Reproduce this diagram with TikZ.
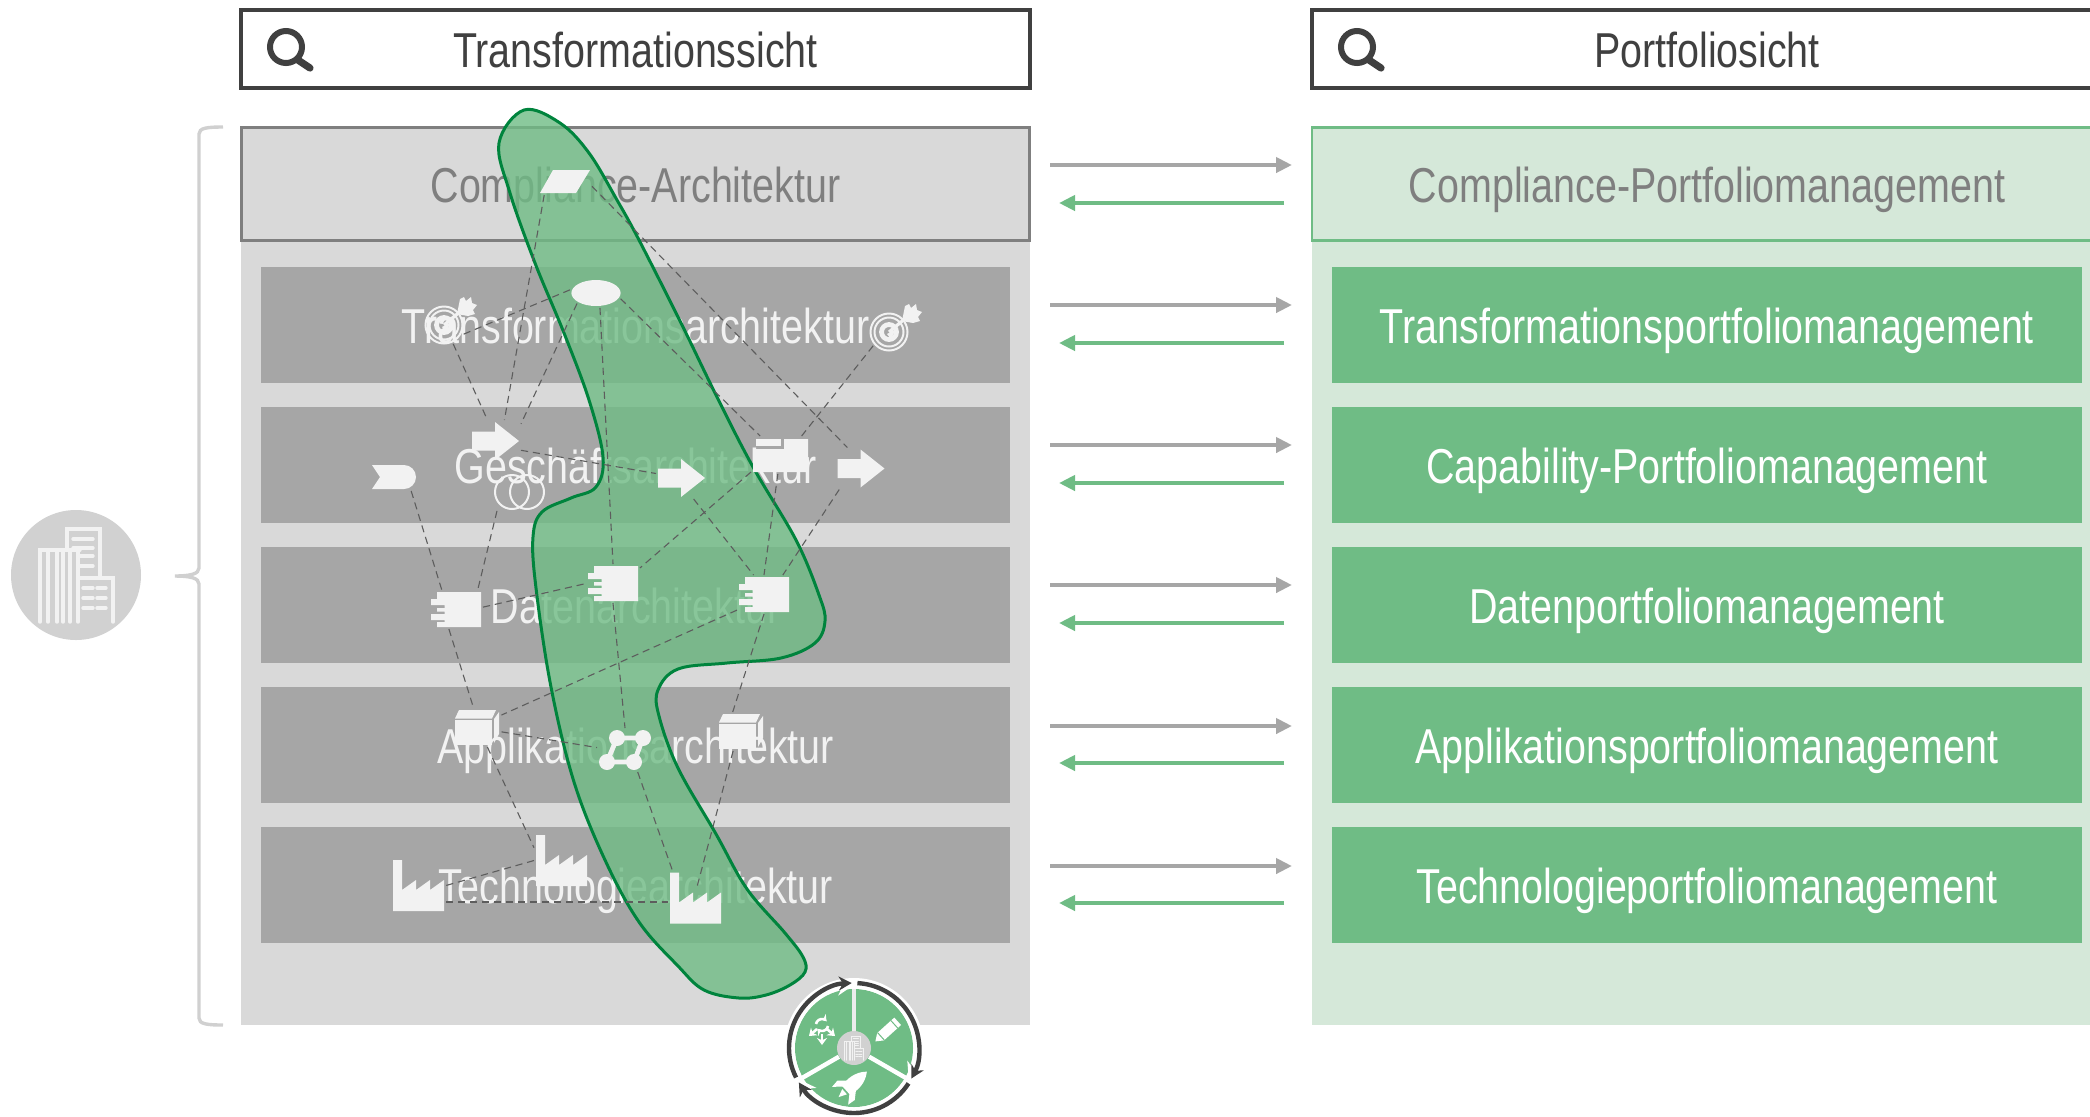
\documentclass[tikz,border=0pt]{standalone}
\usepackage{fontspec}
\setmainfont{Liberation Sans}[FakeStretch=0.805]
\usetikzlibrary{
    arrows.meta,
    shapes.geometric,
    calc
}
\definecolor{panelgray}{HTML}{D9D9D9}
\definecolor{rowgray}{HTML}{A6A6A6}
\definecolor{textgray}{HTML}{7F7F7F}
\definecolor{darkline}{HTML}{404040}
\definecolor{rowgreen}{HTML}{6FBC85}
\definecolor{panelgreen}{HTML}{D5E8D9}
\definecolor{blobline}{HTML}{00843D}
\definecolor{iconwhite}{HTML}{F2F2F2}
\tikzset{
    labelfont/.style={font=\fontsize{24.5}{27}\selectfont, text height=19pt, text depth=1pt},
    headbox/.style={draw=darkline, line width=2pt, fill=white, minimum height=39pt, inner sep=0pt, font=\fontsize{24.5}{27}\selectfont, text height=19pt, text depth=0pt, text=darkline},
    rowleft/.style={fill=rowgray, minimum width=374.5pt, minimum height=58pt, inner sep=0pt, labelfont, text=iconwhite},
    rowright/.style={fill=rowgreen, minimum width=375pt, minimum height=58pt, inner sep=0pt, labelfont, text=white},
    topbox/.style={line width=1.4pt, minimum height=56.5pt, inner sep=0pt, labelfont, text=textgray},
    flowgray/.style={draw=rowgray, line width=2pt, -{Triangle[length=8pt,width=7.5pt]}},
    flowgreen/.style={draw=rowgreen, line width=2pt, -{Triangle[length=8pt,width=7.5pt]}},
    dep/.style={draw=darkline!85, line width=.55pt, dash pattern=on 3.6pt off 2.4pt},
    iconnode/.style 2 args={minimum width=#1*.5pt, minimum height=#2*.5pt, inner sep=0pt, outer sep=1pt},
    iconfill/.style={fill=iconwhite, draw=none},
    ringarc/.style={draw=darkline, line width=2.2pt, -{Stealth[length=6.5pt,width=7pt]}},
    haloarc/.style={draw=white, line width=1.2pt, -{Stealth[length=6pt,width=7pt]}},
    spoke/.style={draw=white, line width=2.2pt}
}
\newcommand{\factoryicon}[3]{
    \node[iconnode={51}{51}] (#1) at (#2,#3) {};
    \fill[iconfill, shift={(#2-25.5,#3-25.5)}] (0,0) -- (9,0) -- (9,30) -- (23,20) -- (23,30) -- (37,20) -- (37,30) -- (51,20) -- (51,51) -- (0,51) -- cycle;
}
\newcommand{\compicon}[3]{
    \node[iconnode={50}{35}] (#1) at (#2,#3) {};
    \fill[iconfill, shift={(#2-19,#3-17.5)}] (44,35) -- (0,35) -- (0,30) -- (7.5,30) -- (7.5,28) -- (-6,28) -- (-6,22) -- (7.5,22) -- (7.5,19.5) -- (0,19.5) -- (0,16) -- (7.5,16) -- (7.5,13) -- (-6,13) -- (-6,7) -- (0,7) -- (0,0) -- (44,0) -- cycle;
}
\newcommand{\cubeicon}[3]{
    \node[iconnode={45}{35}] (#1) at (#2,#3) {};
    \begin{scope}[shift={(#2-22,#3-17.5)}]
        \fill[iconfill] (0,10) rectangle (37,35);
        \fill[iconfill] (0,8.5) -- (4,0) -- (41,0) -- (37,8.5) -- cycle;
        \fill[iconfill] (39,9) -- (44,2) -- (44,24) -- (39,33) -- cycle;
    \end{scope}
}
\newcommand{\arrowicon}[3]{
    \node[iconnode={47}{38}] (#1) at (#2,#3) {};
    \fill[iconfill, shift={(#2-23.5,#3)}] (0,-9.5) -- (23,-9.5) -- (23,-19) -- (47,0) -- (23,19) -- (23,9.5) -- (0,9.5) -- cycle;
}
\newcommand{\targeticon}[3]{
    \node[iconnode={38}{38}, circle] (#1) at (#2,#3) {};
    \begin{scope}[shift={(#2,#3)}, draw=iconwhite]
        \draw[line width=1pt] (0,0) circle (18.5);
        \draw[line width=1pt] (0,0) circle (14.5);
        \draw[line width=2.4pt] (0,0) circle (7.5);
        \draw[line width=1.6pt] (0,0) -- (18,-15);
        \fill[iconfill] (-2,2) -- (7,-3) -- (2,7) -- cycle;
        \fill[iconfill] (13,-11) -- (16,-26) -- (20,-28) -- (22,-24) -- (27,-28) -- (28,-22) -- (33,-20) -- (29,-15) -- (31,-11) -- (24,-9) -- cycle;
    \end{scope}
}
\newcommand{\buildingicon}[5]{
    \begin{scope}[shift={(#1,#2)}, scale=#3, draw=#5, line width=#4, line cap=round]
        \draw (-36,47) -- (-36,-25) -- (4,-25);
        \foreach \xs in {-28,-19,-13,-6,2} {
            \draw (\xs,-25) -- (\xs,47);
        }
        \draw (-9,-25) -- (-9,-46) -- (24,-46) -- (24,3);
        \draw (-3,-36) -- (17,-36) (-3,-27) -- (17,-27) (4,-19) -- (17,-19) (4,-9) -- (17,-9);
        \draw (4,3) -- (37,3) -- (37,47);
        \foreach \ys in {13,23,33} {
            \draw (7,\ys) -- (17,\ys) (21,\ys) -- (30,\ys);
        }
    \end{scope}
}
\newcommand{\searchicon}[2]{
    \begin{scope}[shift={(#1,#2)}, draw=darkline]
        \draw[line width=3pt] (0,0) circle (16);
        \draw[line width=3.6pt, line cap=round] (12,13) -- (24,21);
    \end{scope}
}
\begin{document}
\begin{tikzpicture}[x=.5pt,y=-.5pt]
    \clip (0,0) rectangle (2090,1116);
    \fill[white] (0,0) rectangle (2090,1116);
    % left and right panel
    \node[fill=panelgray, minimum width=394.5pt, minimum height=449pt, inner sep=0pt] (leftpanel) at (635.5,576) {};
    \node[fill=panelgreen, minimum width=395pt, minimum height=449pt, inner sep=0pt] (rightpanel) at (1707,576) {};
    % headers
    \node[headbox, minimum width=394.5pt] (lefthead) at (635.5,48.5) {Transformationssicht};
    \node[headbox, minimum width=395pt] (righthead) at (1707,48.5) {Portfoliosicht};
    \searchicon{286}{47}
    \searchicon{1357}{47}
    % rows
    \node[topbox, draw=textgray, fill=panelgray, minimum width=394pt] (l1) at (635.5,184) {Compliance-Architektur};
    \node[topbox, draw=rowgreen, fill=panelgreen, minimum width=395pt] (r1) at (1707,184) {Compliance-Portfoliomanagement};
    \foreach \i/\y/\ltext/\rtext in {
        2/325/Transformationsarchitektur/Transformationsportfoliomanagement,
        3/465/Geschäftsarchitektur/Capability-Portfoliomanagement,
        4/605/Datenarchitektur/Datenportfoliomanagement,
        5/745/Applikationsarchitektur/Applikationsportfoliomanagement,
        6/885/Technologiearchitektur/Technologieportfoliomanagement} {
        \node[rowleft] (l\i) at (635.5,\y) {\ltext};
        \node[rowright] (r\i) at (1707,\y) {\rtext};
    }
    % arrows between the views
    \foreach \i/\ya/\yb in {1/165/203, 2/305/343, 3/445/483, 4/585/623, 5/726/763, 6/866/903} {
        \coordinate (gs\i) at (1050,\ya);
        \coordinate (ge\i) at (1292,\ya);
        \coordinate (ks\i) at (1284,\yb);
        \coordinate (ke\i) at (1059,\yb);
        \draw[flowgray] (gs\i) -- (ge\i);
        \draw[flowgreen] (ks\i) -- (ke\i);
    }
    % brace and company
    \draw[draw=panelgray!90!gray, line width=1.7pt] (223,127) .. controls (207,127) and (199,128) .. (199,134) -- (199,568) .. controls (199,574) and (190,576) .. (175,576) .. controls (190,576) and (199,578) .. (199,584) -- (199,1018) .. controls (199,1024) and (207,1025) .. (223,1025);
    \node[circle, fill=black!18, minimum size=65pt, inner sep=0pt] (company) at (76,575) {};
    \buildingicon{76}{575}{1}{1.7pt}{black!5}
    % slice
    \draw[draw=blobline, line width=1.5pt, fill=rowgreen, fill opacity=.8] plot[smooth cycle, tension=.6] coordinates {
        (524,110) (560,123) (589,153) (617,200) (639,240) (681,323) (717,397) (753,467) (796,540)
        (819,595) (825,621) (815,643) (781,658) (727,663) (678,669) (658,690) (659,716) (678,768)
        (716,834) (747,889) (785,933) (803,957) (805,972) (790,985) (766,995) (739,998) (704,990) (678,966)
        (639,922) (605,860) (574,782) (551,687) (536,588) (533,537) (542,512) (571,498) (596,487)
        (603,457) (589,400) (564,333) (535,263) (510,193) (499,143)
    };
    % icons
    \node[iconnode={50}{23}] (para) at (565,181.5) {};
    \fill[iconfill] (540,193) -- (553,170) -- (590,170) -- (576,193) -- cycle;
    \node[ellipse, iconfill, minimum width=24.6pt, minimum height=13pt, inner sep=0pt, outer sep=1pt] (goal) at (596,293) {};
    \targeticon{tgt1}{444}{325}
    \targeticon{tgt2}{889}{332}
    \arrowicon{arr1}{495.5}{441}
    \arrowicon{arr2}{681.5}{478}
    \arrowicon{arr3}{861}{468.5}
    \node[iconnode={45}{24}] (val) at (394.5,477) {};
    \fill[iconfill] (372,465) -- (404,465) arc[start angle=-90, end angle=90, radius=12] -- (372,489) -- (380,477) -- cycle;
    \node[iconnode={41}{34}] (rings) at (519.5,492) {};
    \draw[iconwhite, line width=1pt] (512,492) circle (17) (527,492) circle (17);
    \node[iconnode={55}{34}] (fold) at (780.5,455) {};
    \fill[iconfill] (756,439) rectangle (781,446);
    \fill[iconfill] (753,449) -- (784,449) -- (784,439) -- (808,439) -- (808,472) -- (753,472) -- cycle;
    \compicon{comp1}{456}{609.5}
    \compicon{comp2}{613}{583.5}
    \compicon{comp3}{764}{594.5}
    \cubeicon{cube1}{477}{727.5}
    \cubeicon{cube2}{741}{731.5}
    \node[iconnode={52}{40}] (net) at (625,750) {};
    \draw[iconwhite, line width=2.4pt, fill=none] (617,738) -- (643,738) -- (634,762) -- (607,762) -- cycle;
    \foreach \nx/\ny in {617/738, 643/738, 634/762, 607/762} {
        \fill[iconfill] (\nx,\ny) circle (8);
    }
    \factoryicon{fac1}{418.5}{885.5}
    \factoryicon{fac2}{561.5}{860.5}
    \factoryicon{fac3}{695.5}{898}
    % dependencies
    \draw[dep] (para.213) -- (arr1.67);
    \draw[dep] (para.350) -- (arr3.123);
    \draw[dep] (goal.173) -- (tgt1.333);
    \draw[dep] (goal.209) -- (arr1.34);
    \draw[dep] (goal.285) -- (comp2.north);
    \draw[dep] (goal.347) -- (fold.137);
    \draw[dep] (tgt1.296) -- (arr1.111);
    \draw[dep] (tgt2.221) -- (fold.42);
    \draw[dep] (arr1.340) -- (arr2.170);
    \draw[dep] (arr2.300) -- (comp3.118);
    \draw[dep] (fold.210) -- (comp2.30);
    \draw[dep] (fold.262) -- (comp3.north);
    \draw[dep] (arr3.224) -- (comp3.46);
    \draw[dep] (val.320) -- (comp1.126);
    \draw[dep] (rings.220) -- (comp1.42);
    \draw[dep] (comp1.5) -- (comp2.west);
    \draw[dep] (comp1.250) -- (cube1.100);
    \draw[dep] (comp2.south) -- (net.north);
    \draw[dep] (comp3.210) -- (cube1.27);
    \draw[dep] (comp3.south) -- (cube2.113);
    \draw[dep] (cube1.350) -- (net.175);
    \draw[dep] (cube1.298) -- (fac2.155);
    \draw[dep] (net.300) -- (fac3.130);
    \draw[dep, shorten >=-8pt] (cube2.248) -- (fac3.78);
    \draw[dep] (fac2.west) -- (fac1.east);
    \draw[dep] (fac1.329) -- (fac1.329 -| fac3.west);
    % cycle
    \node[circle, fill=white, minimum size=70pt, inner sep=0pt] (cychalo) at (854,1048) {};
    \node[circle, fill=rowgreen, minimum size=59pt, inner sep=0pt] (cycdisc) at (854,1048) {};
    \node[circle, fill=black!18, minimum size=17pt, inner sep=0pt] (cychub) at (854,1048) {};
    \draw[spoke, draw=panelgray!50!white] (cychub.north) -- (cycdisc.north);
    \draw[spoke] (cychub.330) -- (cycdisc.330);
    \draw[spoke] (cychub.210) -- (cycdisc.210);
    \draw[haloarc] ($(cycdisc)+(153:60.5)$) arc[start angle=153, end angle=266, radius=60.5];
    \draw[haloarc] ($(cycdisc)+(273:60.5)$) arc[start angle=273, end angle=386, radius=60.5];
    \draw[haloarc] ($(cycdisc)+(33:60.5)$) arc[start angle=33, end angle=146, radius=60.5];
    \draw[ringarc] ($(cycdisc)+(153:65)$) arc[start angle=153, end angle=268, radius=65];
    \draw[ringarc] ($(cycdisc)+(273:65)$) arc[start angle=273, end angle=388, radius=65];
    \draw[ringarc] ($(cycdisc)+(33:65)$) arc[start angle=33, end angle=148, radius=65];
    \buildingicon{854}{1048}{.26}{.45pt}{black!5}
    % pencil
    \begin{scope}[shift={(888,1030)}, rotate=42]
        \fill[white] (-10,-5) -- (13,-5) -- (13,5) -- (-10,5) -- (-17,0) -- cycle;
        \fill[rowgreen] (-10,-5) -- (-9,-5) -- (-9,5) -- (-10,5) -- cycle;
        \fill[rowgreen] (8,-5) rectangle (9,5);
    \end{scope}
    % rocket
    \begin{scope}[shift={(852,1085)}, rotate=-48]
        \fill[white] (0,-20) .. controls (8,-11) and (8,0) .. (6,8) -- (-6,8) .. controls (-8,0) and (-8,-11) .. (0,-20) -- cycle;
        \fill[white] (-6,0) -- (-13,8) -- (-12,16) -- (-5,8) -- cycle;
        \fill[white] (6,0) -- (13,8) -- (12,16) -- (5,8) -- cycle;
        \fill[white] (-3.5,10) -- (3.5,10) -- (0,18) -- cycle;
    \end{scope}
    % renewal arrows
    \begin{scope}[shift={(822,1025)}, draw=white, line width=1.3pt]
        \draw[-{Stealth[length=3pt,width=4pt]}] (-6,-1) arc[start angle=190, end angle=320, radius=6];
        \draw[-{Stealth[length=3pt,width=4pt]}] (6,1) arc[start angle=10, end angle=140, radius=6];
        \draw[-{Stealth[length=3.5pt,width=5pt]}] (0,9) -- (0,20);
        \draw[-{Stealth[length=3.5pt,width=5pt]}] (-5,4) -- (-13,11);
        \draw[-{Stealth[length=3.5pt,width=5pt]}] (5,4) -- (13,11);
    \end{scope}
\end{tikzpicture}
\end{document}
